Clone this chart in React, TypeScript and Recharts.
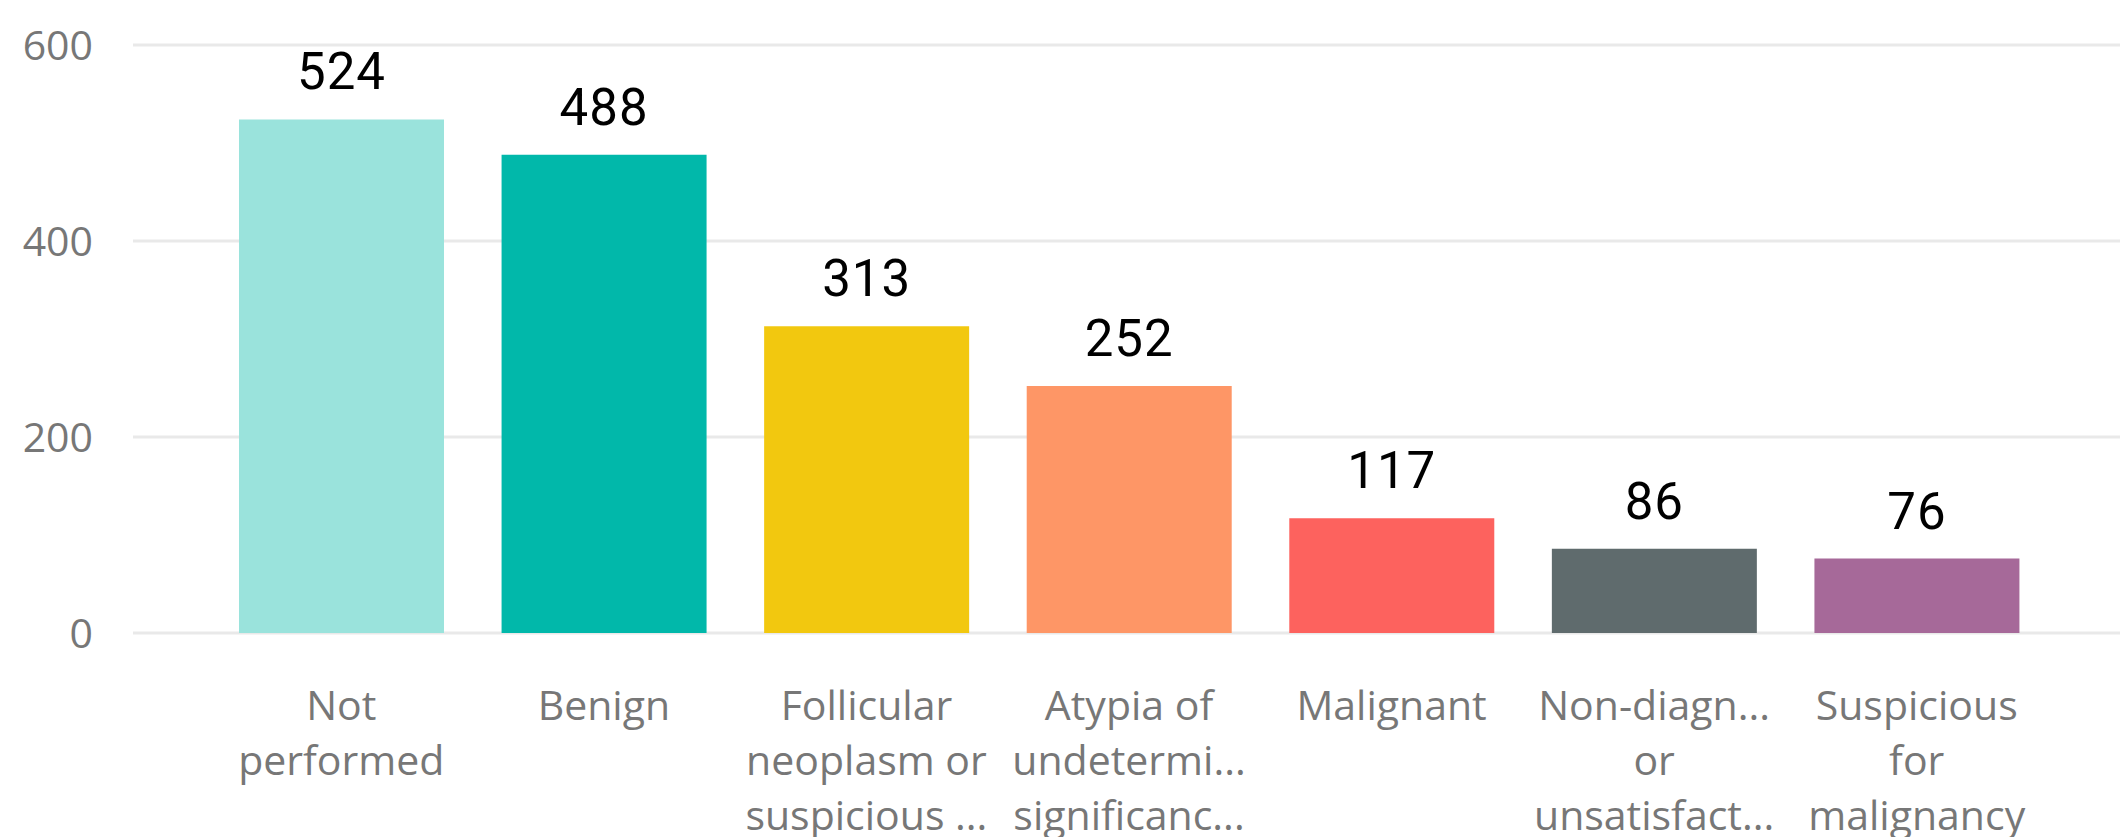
import React from "react";
import { BarChart, Bar, XAxis, YAxis, CartesianGrid, Cell, LabelList } from "recharts";

const categories = [
  "Not performed",
  "Benign",
  "Follicular neoplasm or suspicious for a follicular neoplasm",
  "Atypia of undetermined significance",
  "Malignant",
  "Non-diagnostic or unsatisfactory",
  "Suspicious for malignancy",
];

const counts = [524, 488, 313, 252, 117, 86, 76];

const tickLabelLines: string[][] = [
  ["Not", "performed"],
  ["Benign"],
  ["Follicular", "neoplasm or", "suspicious ..."],
  ["Atypia of", "undetermi...", "significanc..."],
  ["Malignant"],
  ["Non-diagn...", "or", "unsatisfact..."],
  ["Suspicious", "for", "malignancy"],
];

const barColors = ["#9AE3DC", "#01B8AA", "#F2C80F", "#FE9666", "#FD625E", "#5F6B6D", "#A66999"];

const yTicks = [0, 200, 400, 600];

const data = categories.map((c, i) => ({ name: c, value: counts[i], idx: i }));

const XTick = (props: any) => {
  const { x, y, payload } = props;
  const lines = tickLabelLines[payload.index] || [payload.value];
  return (
    <text
      x={x}
      y={y}
      textAnchor="middle"
      fill="#777777"
      style={{ fontFamily: "'Open Sans', 'Noto Sans', sans-serif", fontSize: 41 }}
    >
      {lines.map((l, i) => (
        <tspan key={i} x={x} dy={i === 0 ? 87 : 55}>
          {l}
        </tspan>
      ))}
    </text>
  );
};

const ValueLabel = (props: any) => {
  const { x, y, width, value } = props;
  return (
    <text
      x={x + width / 2}
      y={y - 30}
      textAnchor="middle"
      fill="#000000"
      style={{ fontFamily: "Roboto, 'DejaVu Sans Condensed', sans-serif", fontSize: 51, letterSpacing: 1 }}
    >
      {value}
    </text>
  );
};

export default function App() {
  return (
    <div style={{ position: "absolute", left: 0, top: 0, width: 2120, height: 837, background: "#ffffff" }}>
      <BarChart
        width={2120}
        height={837}
        data={data}
        margin={{ top: 45, right: 0, left: 0, bottom: 0 }}
      >
        <CartesianGrid vertical={false} stroke="#E9E9E9" strokeWidth={3} />
        <XAxis
          dataKey="name"
          height={204}
          axisLine={false}
          tickLine={false}
          tickSize={0}
          tickMargin={0}
          interval={0}
          padding={{ left: 77, right: 72 }}
          tick={<XTick />}
        />
        <YAxis
          type="number"
          domain={[0, 600]}
          ticks={yTicks}
          width={133}
          axisLine={false}
          tickLine={false}
          tickSize={0}
          tickMargin={40}
          tick={{ fill: "#777777", fontSize: 41, fontFamily: "'Open Sans', 'Noto Sans', sans-serif" }}
        />
        <Bar dataKey="value" barSize={205} isAnimationActive={false}>
          {data.map((d, i) => (
            <Cell key={i} fill={barColors[i]} />
          ))}
          <LabelList dataKey="value" content={<ValueLabel />} />
        </Bar>
      </BarChart>
    </div>
  );
}
